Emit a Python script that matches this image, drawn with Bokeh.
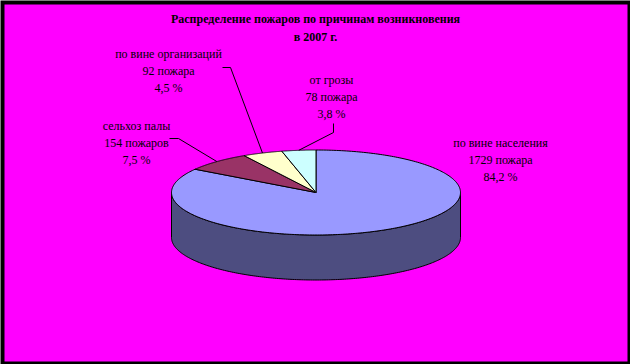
import numpy as np
from bokeh.plotting import figure
from bokeh.models import Range1d
from bokeh.core.properties import value
from bokeh.embed import file_html
from bokeh.resources import INLINE

# --- data -------------------------------------------------------------
causes = ["по вине населения", "сельхоз палы", "по вине организаций", "от грозы"]
fires = [1729, 154, 92, 78]
fire_words = ["пожара", "пожаров", "пожара", "пожара"]
title_lines = ["Распределение пожаров по причинам возникновения", "в 2007 г."]

top_colors = ["#9999FF", "#993366", "#FFFFCC", "#CCFFFF"]
side_colors = ["#4D4D80", "#4D1A33", "#808066", "#668080"]

# --- layout -----------------------------------------------------------
W, H = 630, 364
cx, cy, rx, ry, depth = 315.5, 192.0, 144.5, 42.5, 45.0
FONT = value("Liberation Serif")

# label block centres (x, first line y) and leader elbows for each slice
label_pos = [(500, 142), (136, 125), (168, 53), (331, 79)]
leader_elbow = [None,
                [(169, 138), (178, 138)],
                [(222, 67), (230, 67)],
                [(333, 123), (333, 132)]]

p = figure(width=W, height=H, x_range=Range1d(0, W), y_range=Range1d(H, 0),
           output_backend="svg", toolbar_location=None, min_border=0)
p.axis.visible = False
p.grid.visible = False
p.outline_line_color = None
p.background_fill_color = "black"
p.border_fill_color = "black"

# magenta chart area inside the black frame
p.quad(left=4, right=627, top=4, bottom=361, fill_color="#FF00FF", line_color=None)


def rim(theta, dy=0.0):
    """Point on the ellipse rim; theta measured clockwise from the top."""
    return cx + rx * np.sin(theta), cy - ry * np.cos(theta) + dy


total = float(sum(fires))
shares = [f / total for f in fires]
bounds = np.concatenate([[0.0], np.cumsum(shares)]) * 2 * np.pi

# front side of the cylinder (visible between 90 and 270 degrees)
for i in range(len(fires)):
    a0 = max(bounds[i], np.pi / 2)
    a1 = min(bounds[i + 1], 3 * np.pi / 2)
    if a1 <= a0:
        continue
    t = np.linspace(a0, a1, 200)
    xt, yt = rim(t)
    xb, yb = rim(t[::-1], depth)
    p.patch(np.concatenate([xt, xb]), np.concatenate([yt, yb]),
            fill_color=side_colors[i], line_color="black", line_width=1)

# top face wedges
for i in range(len(fires)):
    t = np.linspace(bounds[i], bounds[i + 1], 300)
    xs, ys = rim(t)
    p.patch(np.concatenate([[cx], xs, [cx]]), np.concatenate([[cy], ys, [cy]]),
            fill_color=top_colors[i], line_color="black", line_width=1)

# leader lines from labels to slice rims
for i in range(len(fires)):
    if leader_elbow[i] is None:
        continue
    mid = 0.5 * (bounds[i] + bounds[i + 1])
    ex, ey = rim(mid)
    pts = leader_elbow[i] + [(ex, ey)]
    p.line([q[0] for q in pts], [q[1] for q in pts], line_color="black", line_width=1)

# data labels
for i in range(len(fires)):
    lx, ly = label_pos[i]
    pct = f"{shares[i] * 100:.1f}".replace(".", ",") + " %"
    lines = [causes[i], f"{fires[i]} {fire_words[i]}", pct]
    p.text(x=[lx] * 3, y=[ly + k * 17 for k in range(3)], text=lines,
           text_font=FONT, text_font_size="12px", text_color="black",
           text_align="center", text_baseline="middle")

# title
p.text(x=[315, 315], y=[18, 36], text=title_lines,
       text_font=FONT, text_font_size="12px", text_font_style="bold",
       text_color="black", text_align="center", text_baseline="middle")

open("out.html", "w").write(file_html(p, INLINE))
